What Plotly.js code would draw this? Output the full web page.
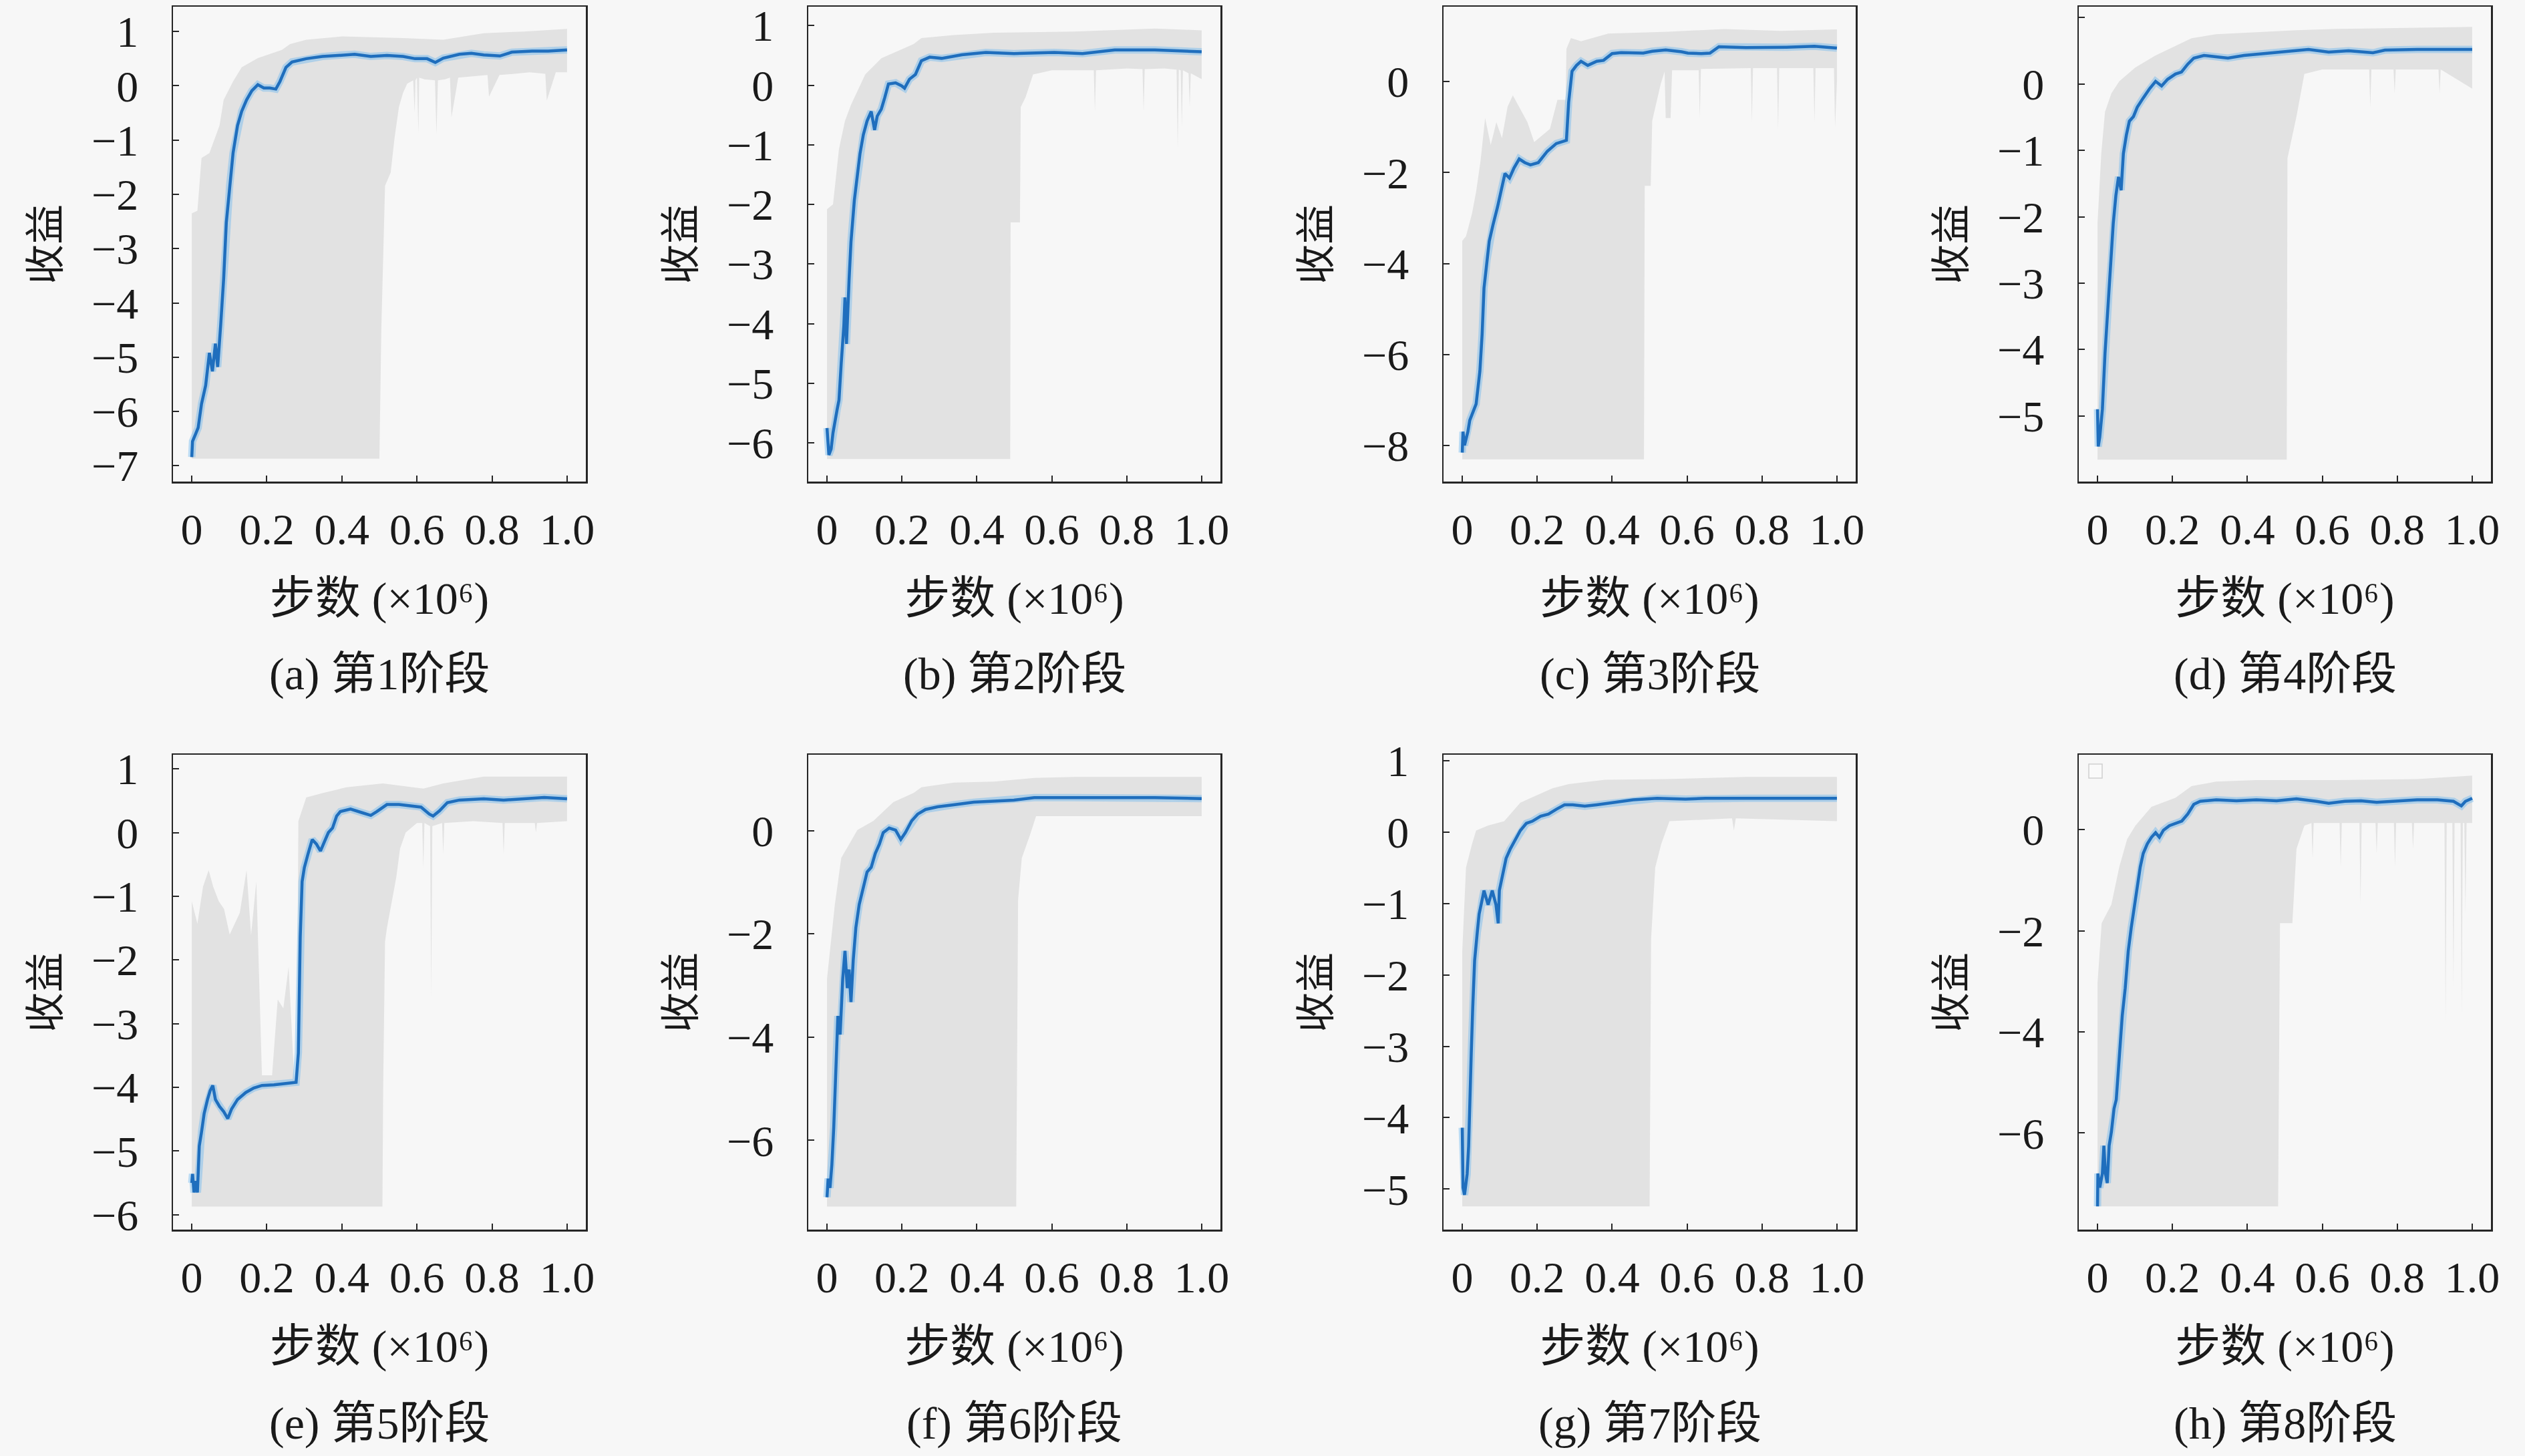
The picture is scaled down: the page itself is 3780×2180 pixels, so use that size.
<!DOCTYPE html>
<html><head><meta charset="utf-8">
<script src="https://cdn.plot.ly/plotly-3.0.1.min.js"></script>
<style>html,body{margin:0;padding:0;background:#f7f7f7;}</style>
</head><body><div id="chart" style="width:3780px;height:2180px;"></div>
<script>
// ---------- (a) 第1阶段 ----------
const xA = [0,0.002,0.010,0.017,0.026,0.037,0.047,0.055,0.063,0.069,0.077,0.085,0.092,0.101,0.110,0.122,0.133,0.146,0.160,0.176,0.192,0.208,0.224,0.235,0.251,0.267,0.305,0.348,0.402,0.434,0.477,0.520,0.563,0.595,0.627,0.649,0.670,0.713,0.745,0.778,0.821,0.853,0.907,0.950,1.0];
const meanA = [-6.84,-6.55,-6.42,-6.3,-5.86,-5.52,-4.92,-5.26,-4.75,-5.18,-4.41,-3.55,-2.52,-1.84,-1.24,-0.73,-0.47,-0.26,-0.09,0.02,-0.04,-0.04,-0.06,0.08,0.34,0.44,0.50,0.54,0.57,0.58,0.54,0.56,0.54,0.50,0.50,0.43,0.51,0.58,0.60,0.57,0.55,0.62,0.64,0.64,0.66];
const upXA = [0,0.015,0.026,0.047,0.074,0.085,0.11,0.133,0.176,0.24,0.262,0.305,0.4,0.563,0.67,0.778,0.885,1.0];
const upA = [-2.35,-2.3,-1.33,-1.24,-0.73,-0.26,0.08,0.34,0.51,0.66,0.77,0.85,0.91,0.88,0.85,0.97,1.0,1.05];
const loXA = [0,0.5,0.505,0.515,0.53,0.54,0.552,0.563,0.574,0.59,0.594,0.596,0.6,0.604,0.606,0.62,0.648,0.652,0.656,0.675,0.688,0.692,0.71,0.75,0.788,0.792,0.82,0.86,0.9,0.942,0.946,0.97,1.0];
const loA = [-6.87,-6.87,-4.5,-1.84,-1.6,-0.98,-0.39,-0.13,0.04,0.1,-0.5,0.1,0.15,-0.88,0.15,0.12,0.1,-0.9,0.1,0.12,0.15,-0.58,0.15,0.18,0.2,-0.2,0.2,0.22,0.25,0.22,-0.27,0.25,0.25];

// ---------- (b) 第2阶段 ----------
const xB = [0,0.005,0.011,0.016,0.027,0.032,0.038,0.045,0.048,0.052,0.059,0.064,0.073,0.081,0.088,0.097,0.107,0.118,0.127,0.134,0.145,0.154,0.164,0.183,0.199,0.207,0.220,0.236,0.252,0.274,0.306,0.360,0.424,0.499,0.607,0.682,0.768,0.875,1.0];
const meanB = [-5.75,-6.2,-6.1,-5.83,-5.44,-5.28,-4.66,-4.03,-3.56,-4.34,-3.25,-2.63,-1.93,-1.54,-1.15,-0.83,-0.6,-0.44,-0.75,-0.52,-0.4,-0.21,0.02,0.04,-0.01,-0.05,0.1,0.18,0.41,0.47,0.45,0.51,0.55,0.53,0.55,0.53,0.59,0.59,0.56];
const upXB = [0,0.016,0.032,0.048,0.064,0.102,0.145,0.231,0.252,0.338,0.445,0.66,0.875,1.0];
const upB = [-2.08,-2.0,-1.07,-0.6,-0.33,0.18,0.45,0.69,0.79,0.84,0.88,0.9,0.95,0.92];
const loXB = [0,0.489,0.49,0.515,0.517,0.53,0.55,0.6,0.712,0.715,0.718,0.8,0.842,0.845,0.848,0.9,0.933,0.936,0.939,0.944,0.947,0.95,0.965,0.968,0.971,1.0];
const loB = [-6.27,-6.27,-2.3,-2.3,-0.37,-0.2,0.18,0.25,0.25,-0.44,0.25,0.28,0.27,-0.44,0.27,0.28,0.26,-1.07,0.26,0.25,-0.7,0.25,0.2,-0.37,0.2,0.1];

// ---------- (c) 第3阶段 ----------
const xC = [0,0.002,0.006,0.015,0.020,0.037,0.047,0.053,0.058,0.066,0.072,0.082,0.094,0.114,0.126,0.138,0.152,0.167,0.182,0.203,0.227,0.251,0.278,0.284,0.293,0.305,0.317,0.335,0.359,0.377,0.400,0.424,0.456,0.483,0.507,0.543,0.585,0.602,0.638,0.661,0.685,0.757,0.865,0.940,1.0];
const meanC = [-8.16,-7.7,-8.0,-7.7,-7.45,-7.09,-6.37,-5.56,-4.54,-3.92,-3.51,-3.15,-2.76,-2.02,-2.12,-1.9,-1.7,-1.78,-1.83,-1.78,-1.53,-1.36,-1.29,-0.45,0.23,0.36,0.45,0.36,0.45,0.47,0.62,0.64,0.63,0.63,0.67,0.70,0.66,0.63,0.62,0.63,0.77,0.75,0.76,0.78,0.74];
const upXC = [0,0.01,0.026,0.037,0.049,0.061,0.076,0.091,0.106,0.121,0.135,0.174,0.192,0.234,0.254,0.276,0.278,0.29,0.317,0.39,0.55,0.7,0.85,1.0];
const upC = [-3.5,-3.4,-2.9,-2.42,-1.73,-0.8,-1.39,-0.89,-1.24,-0.55,-0.3,-0.89,-1.33,-1.04,-0.4,-0.4,0.72,0.96,0.89,1.06,1.1,1.16,1.12,1.15];
const loXC = [0,0.485,0.487,0.503,0.507,0.53,0.54,0.543,0.556,0.56,0.631,0.634,0.637,0.77,0.773,0.776,0.84,0.843,0.846,0.937,0.94,0.943,0.992,0.995,1.0];
const loC = [-8.31,-8.31,-2.29,-2.29,-0.86,-0.04,0.22,-0.8,-0.8,0.25,0.25,-0.8,0.28,0.3,-0.9,0.3,0.3,-1.05,0.3,0.3,-0.9,0.3,0.3,-1.0,0.0];

// ---------- (d) 第4阶段 ----------
const xD = [0,0.002,0.006,0.013,0.020,0.031,0.037,0.042,0.049,0.056,0.063,0.069,0.077,0.085,0.096,0.106,0.122,0.139,0.155,0.171,0.187,0.208,0.224,0.241,0.257,0.284,0.316,0.348,0.391,0.445,0.509,0.563,0.617,0.670,0.735,0.767,0.853,1.0];
const meanD = [-4.9,-5.46,-5.32,-4.9,-4.06,-3.08,-2.66,-2.1,-1.68,-1.4,-1.6,-1.05,-0.77,-0.56,-0.49,-0.35,-0.21,-0.07,0.04,-0.03,0.07,0.15,0.18,0.3,0.39,0.43,0.41,0.39,0.43,0.46,0.5,0.52,0.48,0.5,0.47,0.51,0.52,0.52];
const upXD = [0,0.01,0.02,0.037,0.058,0.101,0.155,0.208,0.251,0.316,0.423,0.531,0.638,1.0];
const upD = [-2.1,-1.05,-0.42,-0.14,0.04,0.25,0.43,0.57,0.69,0.75,0.78,0.81,0.83,0.86];
const loXD = [0,0.505,0.507,0.515,0.531,0.552,0.6,0.725,0.728,0.731,0.79,0.793,0.796,0.91,0.913,0.916,1.0];
const loD = [-5.66,-5.66,-1.12,-0.9,-0.49,0.15,0.22,0.22,-0.35,0.22,0.22,-0.14,0.22,0.22,-0.14,0.22,-0.07];

// ---------- (e) 第5阶段 ----------
const xE = [0,0.002,0.006,0.011,0.015,0.020,0.026,0.033,0.042,0.049,0.056,0.063,0.074,0.085,0.096,0.106,0.122,0.144,0.165,0.187,0.219,0.251,0.278,0.284,0.289,0.294,0.300,0.310,0.321,0.332,0.343,0.353,0.364,0.375,0.386,0.396,0.423,0.455,0.477,0.493,0.520,0.552,0.584,0.611,0.633,0.643,0.660,0.681,0.713,0.778,0.831,0.885,0.939,1.0];
const meanE = [-5.5,-5.36,-5.65,-5.47,-5.65,-4.92,-4.7,-4.41,-4.19,-4.05,-3.97,-4.19,-4.3,-4.38,-4.49,-4.34,-4.19,-4.08,-4.01,-3.97,-3.96,-3.94,-3.92,-3.46,-1.64,-0.77,-0.55,-0.33,-0.11,-0.18,-0.29,-0.15,0.0,0.07,0.26,0.33,0.37,0.31,0.27,0.33,0.44,0.44,0.42,0.4,0.29,0.26,0.34,0.47,0.51,0.53,0.51,0.53,0.55,0.53];
const upXE = [0,0.015,0.030,0.045,0.057,0.072,0.086,0.101,0.128,0.146,0.158,0.172,0.187,0.214,0.229,0.244,0.258,0.273,0.28,0.284,0.305,0.348,0.412,0.509,0.617,0.670,0.778,1.0];
const upE = [-1.08,-1.43,-0.85,-0.59,-0.85,-1.08,-1.2,-1.6,-1.26,-0.59,-1.61,-0.77,-3.81,-3.81,-2.62,-2.76,-2.11,-3.88,-3.88,0.18,0.55,0.62,0.71,0.77,0.69,0.77,0.88,0.88];
const loXE = [0,0.508,0.51,0.515,0.52,0.545,0.555,0.57,0.6,0.614,0.617,0.62,0.635,0.638,0.641,0.667,0.67,0.673,0.75,0.828,0.831,0.834,0.914,0.917,0.92,1.0];
const loE = [-5.87,-5.87,-4.0,-1.71,-1.5,-0.7,-0.25,0.0,0.15,0.15,-0.55,0.15,0.1,-2.59,0.1,0.15,-0.33,0.15,0.18,0.15,-0.33,0.15,0.15,0.0,0.15,0.18];

// ---------- (f) 第6阶段 ----------
const xF = [0,0.003,0.008,0.013,0.018,0.024,0.029,0.035,0.042,0.048,0.054,0.059,0.064,0.070,0.077,0.086,0.097,0.107,0.118,0.129,0.140,0.150,0.166,0.183,0.197,0.209,0.226,0.242,0.263,0.295,0.338,0.392,0.446,0.499,0.553,0.661,0.768,0.875,1.0];
const meanF = [-7.1,-6.74,-6.92,-6.47,-5.75,-4.49,-3.59,-3.95,-2.87,-2.33,-3.05,-2.69,-3.32,-2.51,-1.88,-1.43,-1.07,-0.8,-0.71,-0.44,-0.26,-0.04,0.05,0.01,-0.17,-0.04,0.19,0.32,0.41,0.46,0.5,0.55,0.57,0.59,0.64,0.64,0.64,0.64,0.62];
const upXF = [0,0.021,0.038,0.059,0.081,0.124,0.177,0.231,0.252,0.338,0.446,0.553,0.661,1.0];
const upF = [-2.87,-1.43,-0.53,-0.26,0.01,0.19,0.55,0.73,0.84,0.93,0.95,1.02,1.04,1.04];
const loXF = [0,0.505,0.51,0.52,0.542,0.558,1.0];
const loF = [-7.28,-7.28,-1.34,-0.53,-0.08,0.28,0.28];

// ---------- (g) 第7阶段 ----------
const xG = [0,0.002,0.006,0.013,0.017,0.020,0.024,0.028,0.033,0.040,0.045,0.053,0.058,0.069,0.080,0.090,0.096,0.099,0.106,0.117,0.128,0.139,0.155,0.171,0.187,0.209,0.230,0.252,0.273,0.295,0.327,0.359,0.402,0.456,0.520,0.596,0.649,0.757,0.865,1.0];
const meanG = [-4.14,-4.98,-5.08,-4.79,-4.4,-3.75,-3.1,-2.45,-1.8,-1.41,-1.15,-0.95,-0.82,-1.02,-0.82,-1.02,-1.28,-0.82,-0.63,-0.37,-0.24,-0.14,0.02,0.12,0.15,0.22,0.25,0.32,0.38,0.38,0.36,0.38,0.41,0.45,0.47,0.46,0.47,0.47,0.47,0.47];
const upXG = [0,0.01,0.026,0.037,0.069,0.112,0.155,0.198,0.241,0.284,0.381,0.542,0.757,1.0];
const upG = [-1.67,-0.5,-0.17,0.02,0.09,0.15,0.41,0.51,0.61,0.67,0.73,0.74,0.77,0.77];
const loXG = [0,0.5,0.504,0.515,0.531,0.553,0.72,0.725,0.73,1.0];
const loG = [-5.24,-5.24,-1.5,-0.5,-0.17,0.15,0.19,0.02,0.19,0.15];

// ---------- (h) 第8阶段 ----------
const xH = [0,0.001,0.006,0.013,0.017,0.021,0.026,0.031,0.037,0.044,0.050,0.058,0.066,0.074,0.082,0.090,0.099,0.107,0.114,0.122,0.133,0.144,0.155,0.165,0.176,0.192,0.209,0.225,0.241,0.257,0.274,0.317,0.371,0.424,0.478,0.531,0.584,0.617,0.660,0.703,0.745,0.799,0.853,0.907,0.950,0.971,0.982,1.0];
const meanH = [-7.45,-6.8,-7.08,-6.8,-6.25,-6.8,-6.99,-6.25,-5.98,-5.52,-5.34,-4.6,-3.68,-3.13,-2.4,-1.94,-1.48,-1.11,-0.74,-0.47,-0.28,-0.15,-0.06,-0.15,-0.01,0.08,0.13,0.17,0.31,0.5,0.56,0.59,0.57,0.59,0.57,0.61,0.56,0.52,0.56,0.57,0.54,0.57,0.59,0.59,0.56,0.47,0.56,0.62];
const upXH = [0,0.011,0.037,0.058,0.079,0.101,0.144,0.208,0.251,0.316,0.423,0.638,0.853,1.0];
const upH = [-3.04,-1.85,-1.48,-0.74,-0.19,0.08,0.45,0.63,0.86,0.95,0.98,0.98,1.0,1.07];
const loXH = [0,0.482,0.487,0.52,0.531,0.552,0.571,0.574,0.577,0.646,0.649,0.652,0.699,0.702,0.705,0.742,0.745,0.748,0.791,0.794,0.797,0.839,0.842,0.845,0.926,0.929,0.932,0.947,0.95,0.953,0.969,0.972,0.975,0.979,0.982,0.985,1.0];
const loH = [-7.45,-7.45,-1.85,-1.85,-0.38,0.08,0.13,-0.56,0.13,0.13,-0.74,0.13,0.13,-1.48,0.13,0.13,-0.47,0.13,0.13,-0.74,0.13,0.13,-0.38,0.13,0.13,-3.8,0.13,0.13,-3.13,0.13,0.13,-3.68,0.13,0.13,-1.66,0.13,0.13];

// ---------- labels ----------
const captions = ['(a) 第1阶段','(b) 第2阶段','(c) 第3阶段','(d) 第4阶段','(e) 第5阶段','(f) 第6阶段','(g) 第7阶段','(h) 第8阶段'];
const xTickVals = [0,0.2,0.4,0.6,0.8,1.0];
const xTickText = ['0','0.2','0.4','0.6','0.8','1.0'];
const xLabel = '步数 (×10⁶)';
const yLabel = '收益';

const series = [
  [xA,meanA,upXA,upA,loXA,loA],[xB,meanB,upXB,upB,loXB,loB],
  [xC,meanC,upXC,upC,loXC,loC],[xD,meanD,upXD,upD,loXD,loD],
  [xE,meanE,upXE,upE,loXE,loE],[xF,meanF,upXF,upF,loXF,loF],
  [xG,meanG,upXG,upG,loXG,loG],[xH,meanH,upXH,upH,loXH,loH]
];
// axis settings (ranges and tick step per panel)
const yRanges = [[-7.291,1.453],[-6.647,1.312],[-8.797,1.645],[-5.99,1.161],[-6.233,1.219],[-7.727,1.466],[-5.566,1.078],[-7.91,1.478]];
const yDticks = [1,1,2,1,1,2,1,2];

const W = 3780, H = 2180;
const colPx = [[259,877],[1210,1827],[2161,2778],[3112,3729]];
const rowPx = [[10.4,721],[1130.3,1841]];
const capY = [1009, 2131];

const serif = '"Liberation Serif", "Noto Sans CJK SC", serif';
const cjk = '"Noto Sans CJK SC", sans-serif';
const ink = '#262626';

const traces = [];
const layout = {
  width: W, height: H,
  margin: {l:0,r:0,t:0,b:0},
  paper_bgcolor: '#f7f7f7', plot_bgcolor: '#f7f7f7',
  showlegend: false,
  annotations: [], shapes: []
};

series.forEach((s, i) => {
  const n = i + 1;
  const xa = n === 1 ? 'x' : 'x' + n;
  const ya = n === 1 ? 'y' : 'y' + n;
  const [mx, my, ux, uy, lx, ly] = s;
  traces.push({x: ux, y: uy, xaxis: xa, yaxis: ya, mode: 'lines', line: {width: 0, color: 'rgba(0,0,0,0)'}, hoverinfo: 'skip'});
  traces.push({x: lx, y: ly, xaxis: xa, yaxis: ya, mode: 'lines', line: {width: 0, color: 'rgba(0,0,0,0)'}, fill: 'tonexty', fillcolor: '#e2e2e2', hoverinfo: 'skip'});
  traces.push({x: mx, y: my, xaxis: xa, yaxis: ya, mode: 'lines', line: {width: 11, color: 'rgba(110,185,240,0.45)'}, hoverinfo: 'skip'});
  traces.push({x: mx, y: my, xaxis: xa, yaxis: ya, mode: 'lines', line: {width: 4.5, color: '#1f6ebd'}});

  const c = i % 4, r = Math.floor(i / 4);
  const xd = [colPx[c][0] / W, colPx[c][1] / W];
  const yd = [1 - rowPx[r][1] / H, 1 - rowPx[r][0] / H];
  const axBase = {
    showline: true, mirror: true, linecolor: ink, linewidth: 2.5,
    ticks: 'inside', ticklen: 9, tickwidth: 2, tickcolor: ink,
    showgrid: false, zeroline: false,
    tickfont: {family: serif, size: 66, color: '#1a1a1a'}
  };
  layout[n === 1 ? 'xaxis' : 'xaxis' + n] = Object.assign({}, axBase, {
    domain: xd, anchor: ya, range: [-0.05, 1.05],
    tickmode: 'array', tickvals: xTickVals, ticktext: xTickText,
    ticklabelstandoff: 12,
    title: {text: xLabel, font: {family: serif, size: 68, color: '#1a1a1a'}, standoff: 44}
  });
  layout[n === 1 ? 'yaxis' : 'yaxis' + n] = Object.assign({}, axBase, {
    domain: yd, anchor: xa, range: yRanges[i],
    tickmode: 'linear', tick0: 0, dtick: yDticks[i],
    ticklabelstandoff: 36,
    title: {text: yLabel, font: {family: cjk, size: 60, color: '#1a1a1a'}, standoff: 28}
  });
  layout.annotations.push({
    xref: 'paper', yref: 'paper', x: (xd[0] + xd[1]) / 2, y: 1 - capY[r] / H,
    xanchor: 'center', yanchor: 'middle', showarrow: false,
    text: captions[i], font: {family: serif, size: 68, color: '#1a1a1a'}
  });
});

// empty legend frame in panel (h)
layout.shapes.push({type: 'rect', xref: 'paper', yref: 'paper',
  x0: 3127 / W, x1: 3147 / W, y0: 1 - 1165 / H, y1: 1 - 1144 / H,
  line: {color: '#d0d0d0', width: 1.5}, fillcolor: '#fafafa'});

Plotly.newPlot('chart', traces, layout, {staticPlot: true});
</script></body></html>
